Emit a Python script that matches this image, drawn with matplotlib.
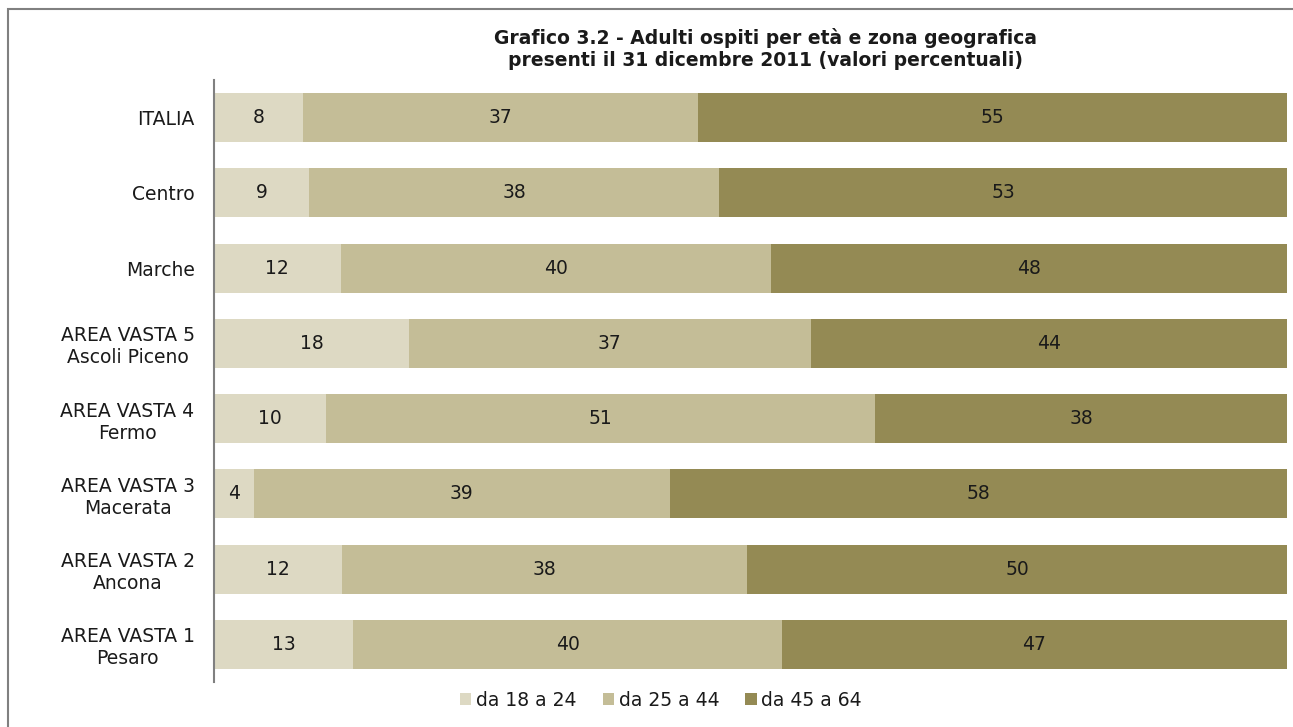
import matplotlib.pyplot as plt
from matplotlib.patches import Rectangle

# zone (dall'alto verso il basso)
zone = ['ITALIA', 'Centro', 'Marche', 'AREA VASTA 5\nAscoli Piceno', 'AREA VASTA 4\nFermo',
        'AREA VASTA 3\nMacerata', 'AREA VASTA 2\nAncona', 'AREA VASTA 1\nPesaro']
# valori percentuali per classe di età
eta_18_24 = [8.3, 8.9, 11.8, 18.2, 10.4, 3.7, 11.9, 13.0]
eta_25_44 = [36.8, 38.2, 40.1, 37.4, 51.2, 38.8, 37.8, 39.9]
eta_45_64 = [54.9, 52.9, 48.1, 44.4, 38.4, 57.5, 50.3, 47.1]
classi = ['da 18 a 24', 'da 25 a 44', 'da 45 a 64']
colori = ['#DDD9C3', '#C4BD97', '#948A54']

fig = plt.figure(figsize=(12.93, 7.27), dpi=100)
ax = fig.add_axes([214 / 1293, 1 - 682 / 727, (1287 - 214) / 1293, 602 / 727])

# cornice del grafico
fig.patches.append(Rectangle((8 / 1293, -0.1), 1.2, 1 - 9 / 727 + 0.1, transform=fig.transFigure,
                             fill=False, edgecolor='#808080', linewidth=1.5))

y = list(range(len(zone)))
left = [0] * len(zone)
for serie, nome, col in zip([eta_18_24, eta_25_44, eta_45_64], classi, colori):
    bars = ax.barh(y, serie, left=left, height=0.65, color=col, label=nome)
    for b, v in zip(bars, serie):
        ax.text(b.get_x() + b.get_width() / 2, b.get_y() + b.get_height() / 2, f'{v:.0f}',
                ha='center', va='center', fontsize=13.5, color='#1a1a1a')
    left = [a + b for a, b in zip(left, serie)]

ax.set_xlim(0, 100)
ax.set_ylim(len(zone) - 0.5, -0.5)
ax.set_yticks(y)
ax.set_yticklabels(zone, fontsize=13.5, ha='right', multialignment='center', color='#1a1a1a')
ax.tick_params(axis='y', length=0, pad=14)
ax.set_xticks([])
for s in ['top', 'right', 'bottom']:
    ax.spines[s].set_visible(False)
ax.spines['left'].set_color('#808080')
ax.spines['left'].set_linewidth(1.5)

fig.text(765 / 1293, 1 - 49 / 727, 'Grafico 3.2 - Adulti ospiti per età e zona geografica\n'
         'presenti il 31 dicembre 2011 (valori percentuali)',
         ha='center', va='center', fontsize=13.5, fontweight='bold', linespacing=1.15,
         color='#1a1a1a')

fig.legend(loc='center', bbox_to_anchor=(661 / 1293, 1 - 700 / 727), ncol=3, frameon=False,
           fontsize=13.5, handlelength=0.6, handleheight=0.6, handletextpad=0.25,
           columnspacing=1.4, labelcolor='#1a1a1a')

fig.savefig('out.png', dpi=100)
